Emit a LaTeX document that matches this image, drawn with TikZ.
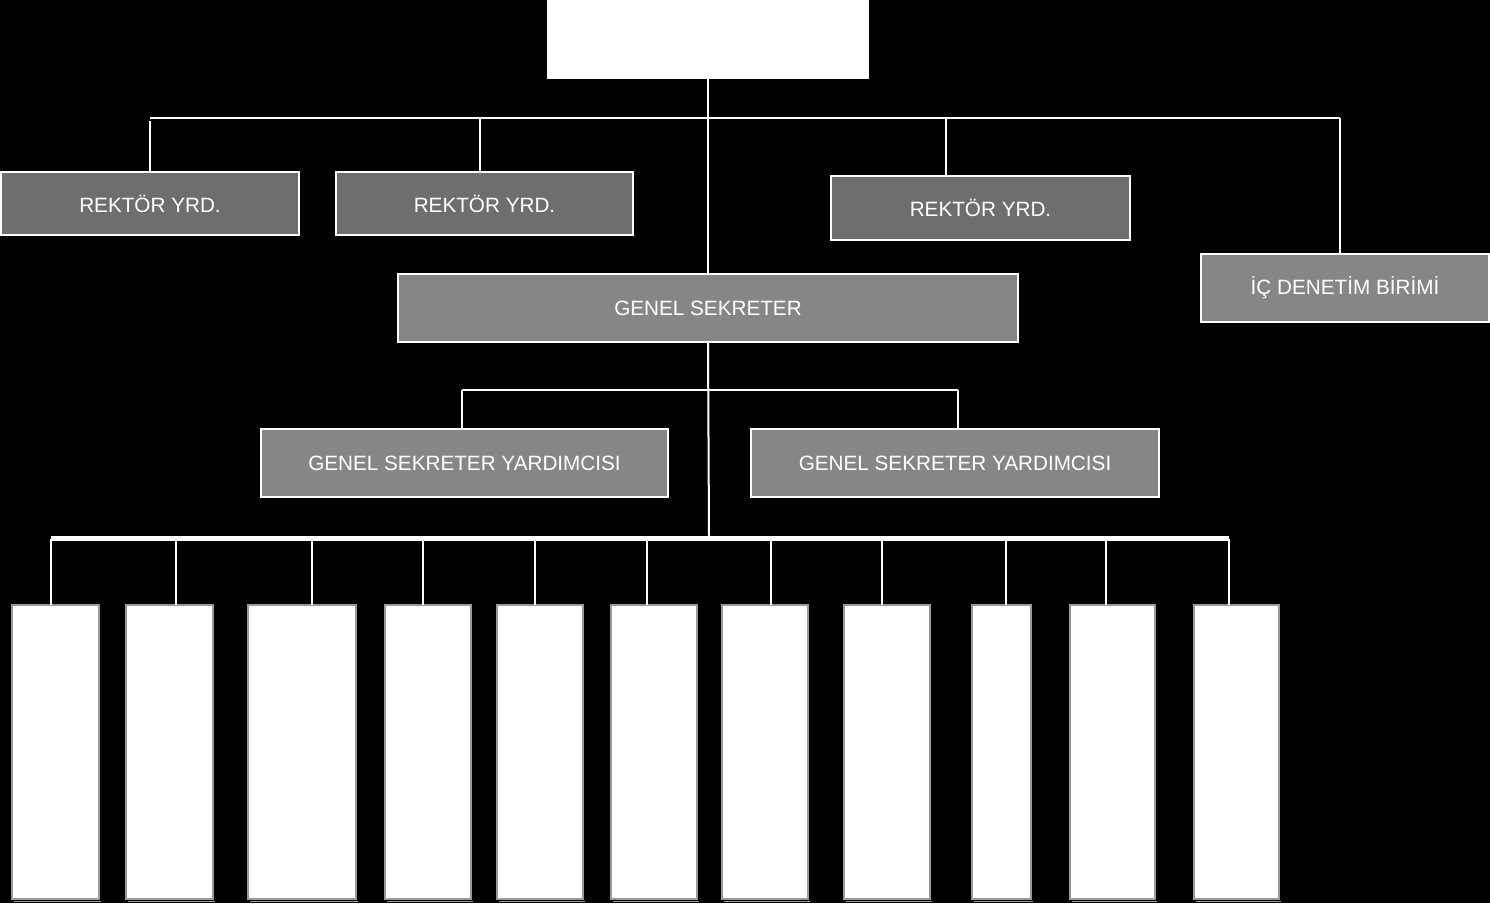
\documentclass[tikz,border=0pt]{standalone}
\usepackage{fontspec}
\setmainfont{Liberation Sans}
\definecolor{darkbox}{HTML}{6E6E6E}
\definecolor{midbox}{HTML}{868686}
\definecolor{edgegray}{HTML}{9A9A9A}
\begin{document}
\begin{tikzpicture}[x=1pt,y=-1pt,
  lbl/.style={font=\fontsize{20.7}{23}\selectfont, text=white},
  boxbase/.style={draw=white, line width=2pt, inner sep=0pt, outer sep=0pt},
  darkrect/.style={boxbase, fill=darkbox, lbl},
  midrect/.style={boxbase, fill=midbox, lbl},
  toprect/.style={fill=white, inner sep=0pt, outer sep=0pt},
  unitrect/.style={draw=edgegray, fill=white, line width=1.2pt, inner sep=0pt, outer sep=0pt},
  link/.style={draw=white, line width=2pt},
  thinlink/.style={draw=white, line width=1.2pt},
  busbar/.style={draw=white, line width=5pt}]
\fill[black] (0,0) rectangle (1490,903);
\useasboundingbox (0,0) rectangle (1490,903);

% top box
\node[toprect, minimum width=322, minimum height=79] (rektor) at (708,39.5) {};

% rector assistants and internal audit
\node[darkrect, minimum width=298, minimum height=63] (r1) at (150,203.5) {REKTÖR YRD.};
\node[darkrect, minimum width=297, minimum height=63] (r2) at (484.5,203.5) {REKTÖR YRD.};
\node[darkrect, minimum width=299, minimum height=64] (r3) at (980.5,208) {REKTÖR YRD.};
\node[midrect, minimum width=288, minimum height=68] (ic) at (1345,288) {İÇ DENETİM BİRİMİ};

% general secretary
\node[midrect, minimum width=620, minimum height=68] (gs) at (708,308) {GENEL SEKRETER};
\node[midrect, minimum width=407, minimum height=68] (gy1) at (464.5,463) {GENEL SEKRETER YARDIMCISI};
\node[midrect, minimum width=408, minimum height=68] (gy2) at (955,463) {GENEL SEKRETER YARDIMCISI};

% bus coordinates
\coordinate (busL) at (150,118);
\coordinate (busR) at (1340,118);
\coordinate (gbusL) at (462,390);
\coordinate (gbusR) at (958,390);
\coordinate (ubusL) at (51,538.5);
\coordinate (ubusR) at (1229,538.5);

% top level connectors
\draw[link] (rektor.south) -- (gs.north);
\draw[link] (busL) -- (busR);
\draw[link] ([yshift=-3]busL) -- (r1.north);
\draw[link] (480,118) -- (r2.north -| 480,0);
\draw[link] (946,118) -- (r3.north -| 946,0);
\draw[link] (busR) -- (ic.north -| busR);

% general secretary connectors
\draw[link] (gs.south) -- (709,536);
\draw[link] (gbusL) -- (gbusR);
\draw[link] (gbusL) -- (gy1.north -| gbusL);
\draw[link] (gbusR) -- (gy2.north -| gbusR);
\draw[busbar] (ubusL) -- (ubusR);

% bottom units
\foreach \i/\xa/\xb/\xc in {1/12/99/51, 2/126/213/176, 3/248/356/312, 4/385/471/423,
    5/497/583/535, 6/611/697/647, 7/722/808/771, 8/844/930/882,
    9/972/1031/1006, 10/1070/1155/1106, 11/1194/1279/1229}{
  \draw[edgegray, line width=1pt] (\xa+1.5,901.5) -- (\xb+1.5,901.5);
  \node[unitrect, minimum width=\xb-\xa, minimum height=294] (u\i) at ({(\xa+\xb)/2},752) {};
  \draw[thinlink] (\xc,538.5) -- (u\i.north -| \xc,0);
}
\end{tikzpicture}
\end{document}
